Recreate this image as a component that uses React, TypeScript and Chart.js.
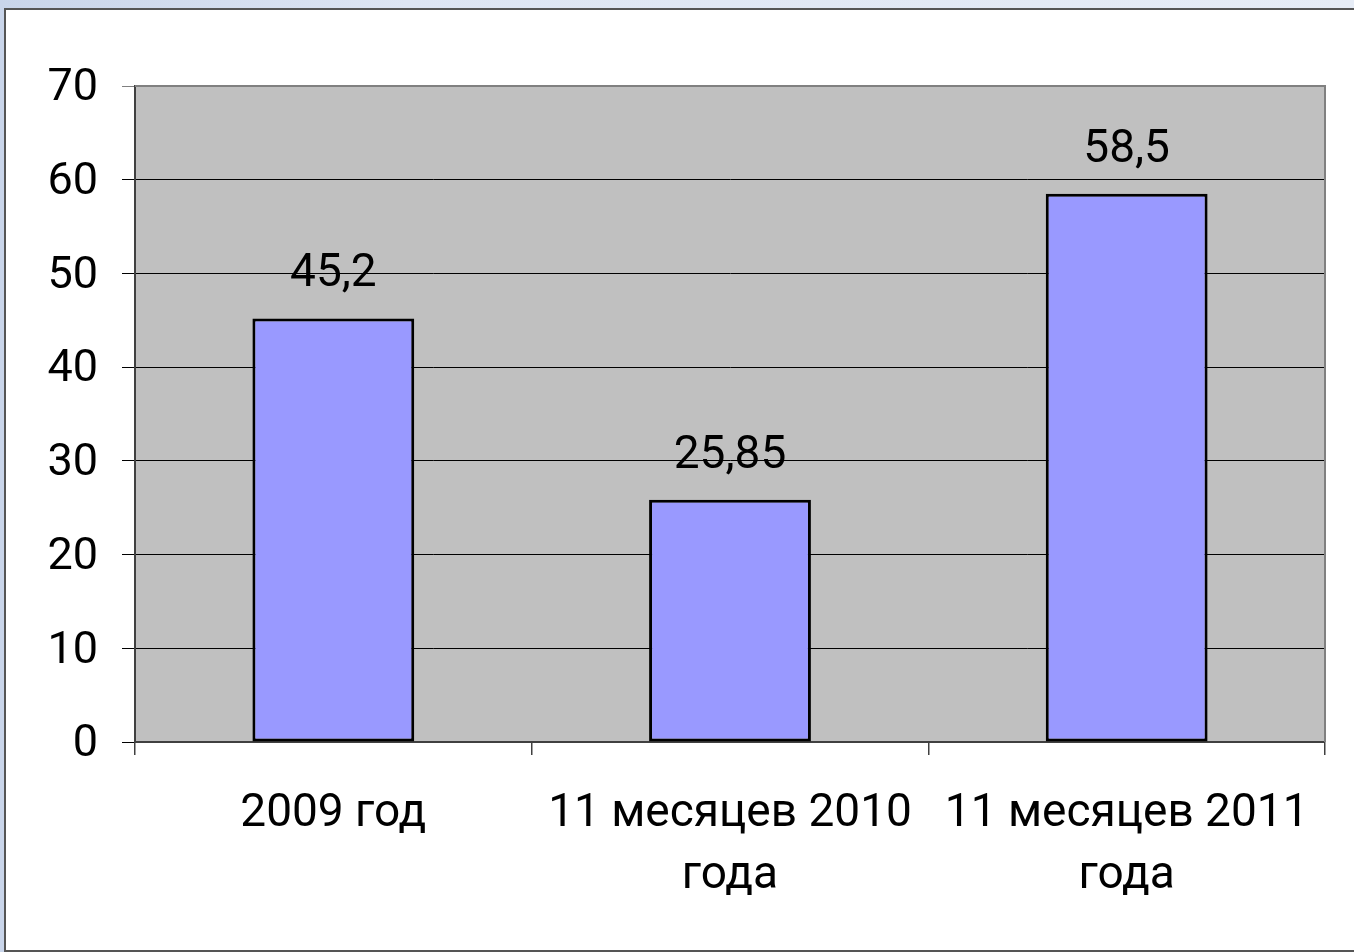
import React, { useEffect, useRef } from "react";
import { Chart, registerables } from "chart.js";

Chart.register(...registerables);

const categories: string[][] = [
  ["2009 год"],
  ["11 месяцев 2010", "года"],
  ["11 месяцев 2011", "года"],
];
const values: number[] = [45.2, 25.85, 58.5];
const yTicks: number[] = [0, 10, 20, 30, 40, 50, 60, 70];

const FONT = "Roboto, 'Liberation Sans', Arial, sans-serif";

const plotBgPlugin = {
  id: "plotBg",
  beforeDraw(chart: any) {
    const { ctx, chartArea } = chart;
    ctx.save();
    ctx.fillStyle = "#C0C0C0";
    ctx.fillRect(chartArea.left, chartArea.top, chartArea.right - chartArea.left, chartArea.bottom - chartArea.top);
    ctx.restore();
  },
  beforeDatasetsDraw(chart: any) {
    const { ctx, chartArea } = chart;
    ctx.save();
    ctx.strokeStyle = "#808080";
    ctx.lineWidth = 2;
    ctx.beginPath();
    ctx.moveTo(chartArea.left, chartArea.top);
    ctx.lineTo(chartArea.right, chartArea.top);
    ctx.lineTo(chartArea.right, chartArea.bottom);
    ctx.stroke();
    ctx.restore();
  },
};

const dataLabelPlugin = {
  id: "dataLabels",
  afterDatasetsDraw(chart: any) {
    const { ctx } = chart;
    const meta = chart.getDatasetMeta(0);
    ctx.save();
    ctx.font = `46px ${FONT}`;
    ctx.fillStyle = "#000";
    ctx.textAlign = "center";
    ctx.textBaseline = "alphabetic";
    meta.data.forEach((bar: any, i: number) => {
      const txt = String(values[i]).replace(".", ",");
      ctx.fillText(txt, bar.x, bar.y - 32);
    });
    ctx.restore();
  },
};

export default function App() {
  const ref = useRef<HTMLCanvasElement | null>(null);

  useEffect(() => {
    if (!ref.current) return;
    const chart = new Chart(ref.current, {
      type: "bar",
      data: {
        labels: categories,
        datasets: [
          {
            data: values,
            backgroundColor: "#9999FF",
            borderColor: "#000000",
            borderWidth: 3,
            borderSkipped: false,
            categoryPercentage: 1,
            barPercentage: 0.408,
          },
        ],
      },
      options: {
        responsive: false,
        animation: false,
        events: [],
        layout: { padding: { left: 0, top: 86, right: 29, bottom: 0 } },
        plugins: {
          legend: { display: false },
          tooltip: { enabled: false },
          title: { display: false },
        },
        scales: {
          x: {
            offset: true,
            grid: {
              offset: true,
              drawOnChartArea: false,
              drawTicks: true,
              tickLength: 13,
              color: "#404040",
              lineWidth: 1.5,
            },
            border: { display: true, color: "#404040", width: 2 },
            ticks: {
              color: "#000",
              font: { family: FONT, size: 46, lineHeight: 1.35 },
              padding: 28,
              maxRotation: 0,
              autoSkip: false,
            },
            afterFit(scale: any) {
              scale.height = 952 - 742;
            },
          },
          y: {
            min: 0,
            max: 70,
            afterBuildTicks(scale: any) {
              scale.ticks = yTicks.map((v) => ({ value: v }));
            },
            grid: {
              drawTicks: true,
              tickLength: 13,
              color: (c: any) => (c.tick && c.tick.value === 70 ? "#808080" : "#000000"),
              lineWidth: 1,
            },
            border: { display: true, color: "#404040", width: 2 },
            ticks: {
              color: "#000",
              font: { family: FONT, size: 45 },
              padding: 24,
              labelOffset: 3,
            },
            afterFit(scale: any) {
              scale.width = 135;
            },
          },
        },
      },
      plugins: [plotBgPlugin, dataLabelPlugin],
    });
    return () => chart.destroy();
  }, []);

  return (
    <div
      style={{
        position: "fixed",
        left: 0,
        top: 0,
        width: 1354,
        height: 952,
        overflow: "hidden",
        background: "linear-gradient(90deg, #C9D5EA 0%, #DDE5F3 30%, #E6ECF6 100%)",
      }}
    >
      <div
        style={{
          position: "absolute",
          left: 4,
          top: 8,
          width: 1400,
          height: 940,
          background: "#FFFFFF",
          border: "2px solid #555555",
        }}
      />
      <canvas
        ref={ref}
        width={1354}
        height={952}
        style={{ position: "absolute", left: 0, top: 0, width: 1354, height: 952 }}
      />
    </div>
  );
}
